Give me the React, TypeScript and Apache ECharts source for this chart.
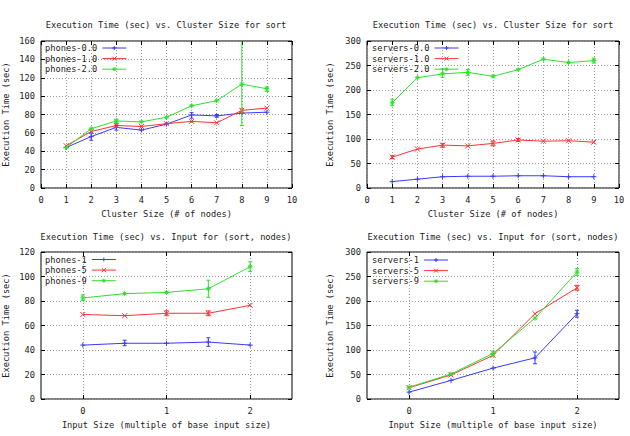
import React, { useEffect, useRef } from "react";
import * as echarts from "echarts";

// ---- data ----
const clusterSizes = [1, 2, 3, 4, 5, 6, 7, 8, 9];
const phonesClusterNames = ["phones-0.0", "phones-1.0", "phones-2.0"];
const phones00 = [44, 56, 66, 63, 69.5, 79.5, 78.5, 81.5, 82.5];
const phones10 = [46, 61.5, 68, 67, 70, 72.5, 71, 84.5, 87];
const phones20 = [44, 64.5, 73, 72, 77, 89.5, 95, 113, 108];
const phones00Err = [[2, 52, 60], [3, 63, 68], [6, 76, 82], [7, 77, 80]];
const phones10Err = [[3, 66, 70], [8, 82, 86]];
const phones20Err = [[3, 71, 75], [8, 68, 175], [9, 105, 110]];

const serversClusterNames = ["servers-0.0", "servers-1.0", "servers-2.0"];
const servers00 = [13, 18, 23, 24, 24, 25, 25, 23, 23];
const servers10 = [63, 79.5, 87.5, 86, 91, 98, 95.5, 96.5, 93.5];
const servers20 = [174, 225, 233, 236, 228, 241.5, 263, 256, 260];
const servers10Err = [[1, 60, 66], [3, 83, 91], [5, 86, 96], [6, 95, 101]];
const servers20Err = [[1, 168, 181], [3, 226, 243], [4, 230, 242], [9, 255, 265]];

const inputSizes = [0, 0.5, 1, 1.5, 2];
const phonesInputNames = ["phones-1", "phones-5", "phones-9"];
const phones1 = [44, 45.5, 45.5, 46.5, 44];
const phones5 = [69, 68, 70, 70, 76.5];
const phones9 = [82.5, 86, 87, 90, 108];
const phones1Err = [[0.5, 43.5, 48], [1.5, 43, 50]];
const phones5Err = [[1, 68, 72], [1.5, 68, 72]];
const phones9Err = [[0, 80.5, 85], [1.5, 83, 97], [2, 104, 112]];

const serversInputNames = ["servers-1", "servers-5", "servers-9"];
const servers1 = [14, 38, 63, 84, 174];
const servers5 = [23, 49, 89, 174, 227];
const servers9 = [24, 51, 93, 165, 259];
const servers1Err = [[1.5, 72, 96], [2, 167, 181]];
const servers5Err = [[2, 222, 232]];
const servers9Err = [[1, 88, 98], [2, 252, 266]];

const clusterTicks = [0, 160, 20];
const serverTicks = [0, 300, 50];
const inputPhoneTicks = [0, 120, 20];
const inputTickValues = [0, 1, 2];

const titleCluster = "Execution Time (sec) vs. Cluster Size for sort";
const titleInput = "Execution Time (sec) vs. Input for (sort, nodes)";
const xNameCluster = "Cluster Size (# of nodes)";
const xNameInput = "Input Size (multiple of base input size)";
const yName = "Execution Time (sec)";

// ---- styling ----
const FONT = "'DejaVu Sans Mono', 'Liberation Mono', monospace";
const FS = 8.7;
const TXT = "#222";
const BLUE = "#3a3aff";
const RED = "#ff3333";
const GREEN = "#2ee02e";
const SYM_PLUS = "path://M5,0V10M0,5H10";
const SYM_X = "path://M0,0L10,10M10,0L0,10";
const SYM_STAR = "path://M5,0V10M0,5H10M1.5,1.5L8.5,8.5M8.5,1.5L1.5,8.5";

const grids = [
  { left: 40, top: 41, width: 252, height: 147 },
  { left: 367, top: 41, width: 252, height: 147 },
  { left: 40, top: 252, width: 252, height: 147 },
  { left: 367, top: 252, width: 252, height: 147 },
];

const textStyle = { fontFamily: FONT, fontSize: FS, color: TXT };

function lineSeries(name: string, xs: number[], ys: number[], color: string, symbol: string, idx: number) {
  return {
    type: "line",
    name,
    xAxisIndex: idx,
    yAxisIndex: idx,
    data: xs.map((x, i) => [x, ys[i]]),
    symbol,
    symbolSize: 5,
    showSymbol: true,
    lineStyle: { color, width: 1 },
    itemStyle: { color, borderColor: color, borderWidth: 1 },
    emphasis: { disabled: true },
    z: 3,
  };
}

function errSeries(errs: number[][], color: string, idx: number) {
  return {
    type: "custom",
    xAxisIndex: idx,
    yAxisIndex: idx,
    data: errs,
    encode: { x: 0, y: [1, 2] },
    z: 4,
    silent: true,
    renderItem: (params: any, api: any) => {
      const x = api.value(0);
      const lo = api.coord([x, api.value(1)]);
      const hi = api.coord([x, api.value(2)]);
      const cs = params.coordSys;
      const top = cs.y;
      const bottom = cs.y + cs.height;
      const clamp = (v: number) => Math.min(Math.max(v, top), bottom);
      const y1 = clamp(lo[1]);
      const y2 = clamp(hi[1]);
      const style = { stroke: color, lineWidth: 1 };
      const children: any[] = [
        { type: "line", shape: { x1: lo[0], y1, x2: lo[0], y2 }, style },
      ];
      if (y1 === lo[1]) children.push({ type: "line", shape: { x1: lo[0] - 2, y1, x2: lo[0] + 2, y2: y1 }, style });
      if (y2 === hi[1]) children.push({ type: "line", shape: { x1: lo[0] - 2, y1: y2, x2: lo[0] + 2, y2 }, style });
      return { type: "group", children };
    },
  };
}

function legendFor(names: string[], left: number, top: number) {
  return {
    data: names,
    left,
    top,
    orient: "vertical",
    align: "right",
    itemWidth: 24,
    itemHeight: 5,
    itemGap: 1.6,
    padding: 0,
    selectedMode: false,
    lineStyle: { width: 1 },
    itemStyle: { borderWidth: 1 },
    textStyle: { ...textStyle, lineHeight: 9 },
  };
}

const splitLine = { show: true, lineStyle: { color: "#9a9a9a", type: [1, 2], width: 1 } };
const tick = { show: true, inside: true, length: 4, lineStyle: { color: "#000", width: 1 } };
const noLine = { show: false, onZero: false };

function mainX(idx: number, cluster: boolean) {
  const base: any = {
    type: "value",
    gridIndex: idx,
    name: cluster ? xNameCluster : xNameInput,
    nameLocation: "middle",
    nameGap: 21,
    nameTextStyle: textStyle,
    axisLine: noLine,
    axisLabel: { ...textStyle, margin: 7 },
    axisTick: tick,
    splitLine,
  };
  if (cluster) {
    base.min = 0;
    base.max = 10;
    base.interval = 1;
  } else {
    base.min = -0.5;
    base.max = 2.5;
    base.axisLabel = { ...base.axisLabel, customValues: inputTickValues };
    base.axisTick = { ...tick, customValues: inputTickValues };
  }
  return base;
}

function mirrorX(idx: number, cluster: boolean) {
  const base: any = {
    type: "value",
    gridIndex: idx,
    position: "top",
    axisLine: noLine,
    axisLabel: { show: false },
    axisTick: tick,
    splitLine: { show: false },
  };
  if (cluster) {
    base.min = 0;
    base.max = 10;
    base.interval = 1;
  } else {
    base.min = -0.5;
    base.max = 2.5;
    base.axisLabel = { show: false, customValues: inputTickValues };
    base.axisTick = { ...tick, customValues: inputTickValues };
  }
  return base;
}

function mainY(idx: number, t: number[], gap: number) {
  return {
    type: "value",
    gridIndex: idx,
    min: t[0],
    max: t[1],
    interval: t[2],
    name: yName,
    nameLocation: "middle",
    nameGap: gap,
    nameTextStyle: textStyle,
    axisLine: noLine,
    axisLabel: { ...textStyle, margin: 6 },
    axisTick: tick,
    splitLine,
  };
}

function mirrorY(idx: number, t: number[]) {
  return {
    type: "value",
    gridIndex: idx,
    position: "right",
    min: t[0],
    max: t[1],
    interval: t[2],
    axisLine: noLine,
    axisLabel: { show: false },
    axisTick: tick,
    splitLine: { show: false },
  };
}

function buildOption() {
  return {
    animation: false,
    backgroundColor: "#fff",
    title: [
      { text: titleCluster, left: 166, top: 20 },
      { text: titleCluster, left: 493, top: 20 },
      { text: titleInput, left: 166, top: 232 },
      { text: titleInput, left: 493, top: 232 },
    ].map((t) => ({ ...t, padding: 0, textAlign: "center", textStyle: { ...textStyle, fontWeight: "normal" } })),
    legend: [
      legendFor(phonesClusterNames, 45, 43.5),
      legendFor(serversClusterNames, 372, 43.5),
      legendFor(phonesInputNames, 45, 255),
      legendFor(serversInputNames, 372, 255.5),
    ],
    grid: grids.map((g) => ({ ...g, show: true, borderColor: "#000", borderWidth: 1, backgroundColor: "transparent" })),
    xAxis: [
      mainX(0, true), mainX(1, true), mainX(2, false), mainX(3, false),
      mirrorX(0, true), mirrorX(1, true), mirrorX(2, false), mirrorX(3, false),
    ],
    yAxis: [
      mainY(0, clusterTicks, 31), mainY(1, serverTicks, 33), mainY(2, inputPhoneTicks, 31), mainY(3, serverTicks, 33),
      mirrorY(0, clusterTicks), mirrorY(1, serverTicks), mirrorY(2, inputPhoneTicks), mirrorY(3, serverTicks),
    ],
    series: [
      lineSeries(phonesClusterNames[0], clusterSizes, phones00, BLUE, SYM_PLUS, 0),
      lineSeries(phonesClusterNames[1], clusterSizes, phones10, RED, SYM_X, 0),
      lineSeries(phonesClusterNames[2], clusterSizes, phones20, GREEN, SYM_STAR, 0),
      errSeries(phones00Err, BLUE, 0),
      errSeries(phones10Err, RED, 0),
      errSeries(phones20Err, GREEN, 0),

      lineSeries(serversClusterNames[0], clusterSizes, servers00, BLUE, SYM_PLUS, 1),
      lineSeries(serversClusterNames[1], clusterSizes, servers10, RED, SYM_X, 1),
      lineSeries(serversClusterNames[2], clusterSizes, servers20, GREEN, SYM_STAR, 1),
      errSeries(servers10Err, RED, 1),
      errSeries(servers20Err, GREEN, 1),

      lineSeries(phonesInputNames[0], inputSizes, phones1, BLUE, SYM_PLUS, 2),
      lineSeries(phonesInputNames[1], inputSizes, phones5, RED, SYM_X, 2),
      lineSeries(phonesInputNames[2], inputSizes, phones9, GREEN, SYM_STAR, 2),
      errSeries(phones1Err, BLUE, 2),
      errSeries(phones5Err, RED, 2),
      errSeries(phones9Err, GREEN, 2),

      lineSeries(serversInputNames[0], inputSizes, servers1, BLUE, SYM_PLUS, 3),
      lineSeries(serversInputNames[1], inputSizes, servers5, RED, SYM_X, 3),
      lineSeries(serversInputNames[2], inputSizes, servers9, GREEN, SYM_STAR, 3),
      errSeries(servers1Err, BLUE, 3),
      errSeries(servers5Err, RED, 3),
      errSeries(servers9Err, GREEN, 3),
    ],
  };
}

export default function App() {
  const ref = useRef<HTMLDivElement>(null);
  useEffect(() => {
    if (!ref.current) return;
    const chart = echarts.init(ref.current, undefined, { renderer: "svg" });
    chart.setOption(buildOption() as any);
    return () => chart.dispose();
  }, []);
  return (
    <div
      ref={ref}
      style={{ position: "fixed", left: 0, top: 0, width: 630, height: 436, background: "#fff" }}
    />
  );
}
